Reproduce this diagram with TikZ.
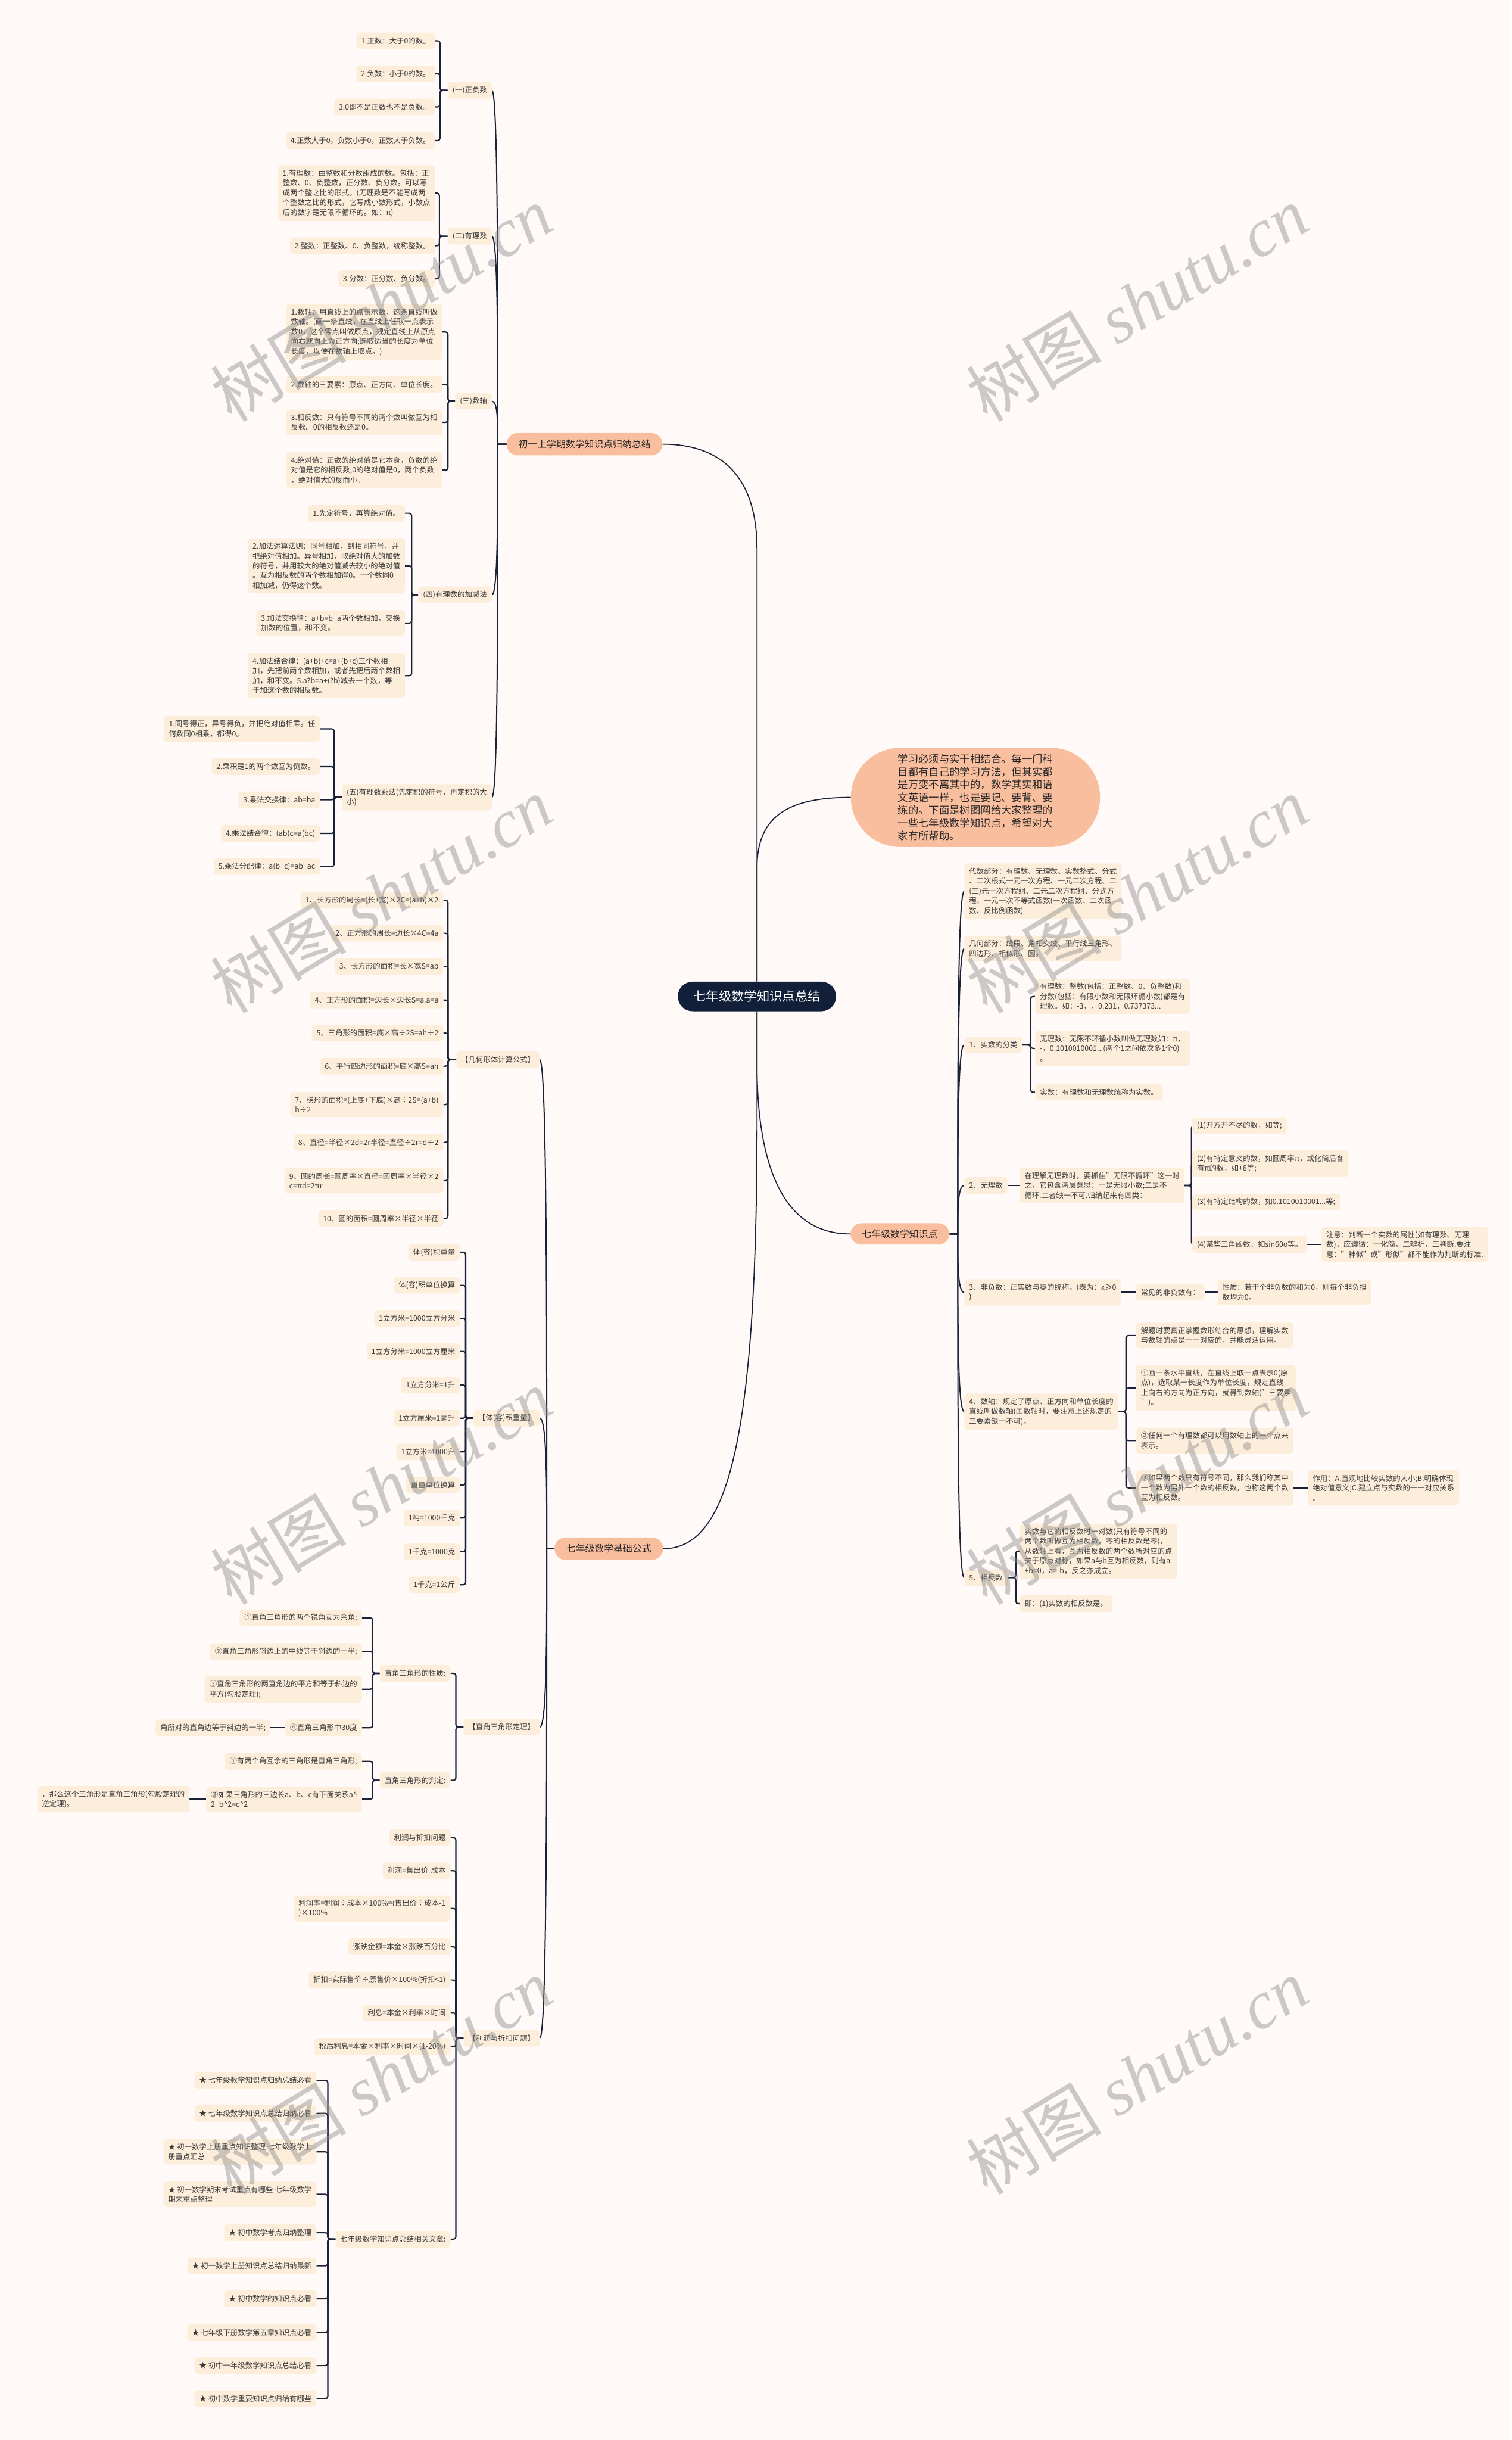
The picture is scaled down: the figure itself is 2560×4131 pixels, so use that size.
\documentclass[tikz,border=0pt]{standalone}
\usepackage{fontspec}
\setmainfont{Noto Sans CJK SC}
\newfontfamily\wmfont{Liberation Serif}
\usetikzlibrary{calc}
\pgfdeclarelayer{lines}
\pgfsetlayers{lines,main}
\definecolor{bgc}{HTML}{FFFAF8}
\definecolor{leafc}{HTML}{FDEEDC}
\definecolor{lonec}{HTML}{F9BE9E}
\definecolor{rootc}{HTML}{111F38}
\definecolor{linec}{HTML}{1A2238}
\definecolor{txtc}{HTML}{3A3A3A}
\newcommand\brL[3]{\draw[br] (#1.west) -- ++(-#3,0) |- (#2.east);}
\newcommand\brR[3]{\draw[br] (#1.east) -- ++(#3,0) |- (#2.west);}
\newcommand\cvL[3]{\draw[cv] (#1.west) -- (#3) .. controls ($(#3)!0.5!(#3 |- #2.east)$) and (#3 |- #2.east) .. (#2.east);}
\newcommand\cvR[3]{\draw[cv] (#1.east) -- (#3) .. controls ($(#3)!0.5!(#3 |- #2.west)$) and (#3 |- #2.west) .. (#2.west);}
\begin{document}
\begin{tikzpicture}[x=1pt,y=-1pt,
 leaf/.style={fill=leafc, rounded corners=5pt, inner xsep=8pt, inner ysep=7.5pt, minimum height=28pt, align=left, text=txtc, font=\fontsize{12.5}{16.6}\selectfont},
 lone/.style={fill=lonec, rounded corners=19pt, minimum height=38pt, inner xsep=0pt, text=black!85, font=\fontsize{16}{20}\selectfont},
 rootn/.style={fill=rootc, rounded corners=25pt, minimum width=268pt, minimum height=50pt, text=white, font=\fontsize{21.5}{24}\selectfont},
 bubble/.style={fill=lonec, rounded corners=84pt, minimum width=422pt, minimum height=168pt, align=left, text=black!85, font=\fontsize{17.5}{21.6}\selectfont},
 br/.style={draw=linec, line width=2.2pt, rounded corners=4pt},
 cv/.style={draw=linec, line width=2pt},
 rc/.style={draw=linec, line width=1.8pt},
 wm/.style={text=black!45, text opacity=0.45, font=\fontsize{115}{120}\selectfont, rotate=31},
]
\useasboundingbox (0,0) rectangle (2560,4131);

% ---------- root, level 1 ----------
\node[rootn] (root) at (1282,1687) {七年级数学知识点总结};
\node[lone, minimum width=264pt] (L1) at (990,752) {初一上学期数学知识点归纳总结};
\node[lone, minimum width=184pt] (L2) at (1031,2622) {七年级数学基础公式};
\node[lone, minimum width=168pt, minimum height=36pt] (L3) at (1524,2089) {七年级数学知识点};
\node[bubble] (bub) at (1652,1350) {学习必须与实干相结合。每一门科\\目都有自己的学习方法，但其实都\\是万变不离其中的，数学其实和语\\文英语一样，也是要记、要背、要\\练的。下面是树图网给大家整理的\\一些七年级数学知识点，希望对大\\家有所帮助。};
\coordinate (s1) at (843,752);
\coordinate (s2) at (926,2622);
\coordinate (s3) at (1622,2089);

% ---------- 初一上学期 ----------
\node[leaf,anchor=east] (pa) at (833,153) {(一)正负数};
\node[leaf,anchor=east] (a1) at (737,69) {1.正数：大于0的数。};
\node[leaf,anchor=east] (a2) at (737,125) {2.负数：小于0的数。};
\node[leaf,anchor=east] (a3) at (737,181) {3.0即不是正数也不是负数。};
\node[leaf,anchor=east] (a4) at (737,238) {4.正数大于0，负数小于0，正数大于负数。};
\node[leaf,anchor=east] (pb) at (833,400) {(二)有理数};
\node[leaf,anchor=east] (b1) at (737,327) {1.有理数：由整数和分数组成的数。包括：正\\整数、0、负整数，正分数、负分数。可以写\\成两个整之比的形式。(无理数是不能写成两\\个整数之比的形式，它写成小数形式，小数点\\后的数字是无限不循环的。如：π)};
\node[leaf,anchor=east] (b2) at (737,416) {2.整数：正整数、0、负整数，统称整数。};
\node[leaf,anchor=east] (b3) at (737,472) {3.分数：正分数、负分数。};
\node[leaf,anchor=east] (pc) at (833,679) {(三)数轴};
\node[leaf,anchor=east] (c1) at (749,562) {1.数轴：用直线上的点表示数，这条直线叫做\\数轴。(画一条直线，在直线上任取一点表示\\数0，这个零点叫做原点，规定直线上从原点\\向右或向上为正方向;选取适当的长度为单位\\长度，以便在数轴上取点。)};
\node[leaf,anchor=east] (c2) at (749,651) {2.数轴的三要素：原点、正方向、单位长度。};
\node[leaf,anchor=east] (c3) at (749,715) {3.相反数：只有符号不同的两个数叫做互为相\\反数。0的相反数还是0。};
\node[leaf,anchor=east] (c4) at (749,796) {4.绝对值：正数的绝对值是它本身，负数的绝\\对值是它的相反数;0的绝对值是0，两个负数\\，绝对值大的反而小。};
\node[leaf,anchor=east] (pd) at (833,1007) {(四)有理数的加减法};
\node[leaf,anchor=east] (d1) at (686,869) {1.先定符号，再算绝对值。};
\node[leaf,anchor=east] (d2) at (686,958) {2.加法运算法则：同号相加，到相同符号，并\\把绝对值相加。异号相加，取绝对值大的加数\\的符号，并用较大的绝对值减去较小的绝对值\\。互为相反数的两个数相加得0。一个数同0\\相加减，仍得这个数。};
\node[leaf,anchor=east] (d3) at (686,1055) {3.加法交换律：a+b=b+a两个数相加，交换\\加数的位置，和不变。};
\node[leaf,anchor=east] (d4) at (686,1144) {4.加法结合律：(a+b)+c=a+(b+c)三个数相\\加，先把前两个数相加，或者先把后两个数相\\加，和不变。5.a?b=a+(?b)减去一个数，等\\于加这个数的相反数。};
\node[leaf,anchor=east] (pe) at (833,1350) {(五)有理数乘法(先定积的符号，再定积的大\\小)};
\node[leaf,anchor=east] (e1) at (542,1234) {1.同号得正，异号得负，并把绝对值相乘。任\\何数同0相乘，都得0。};
\node[leaf,anchor=east] (e2) at (542,1298) {2.乘积是1的两个数互为倒数。};
\node[leaf,anchor=east] (e3) at (542,1354) {3.乘法交换律：ab=ba};
\node[leaf,anchor=east] (e4) at (542,1411) {4.乘法结合律：(ab)c=a(bc)};
\node[leaf,anchor=east] (e5) at (542,1467) {5.乘法分配律：a(b+c)=ab+ac};

% ---------- 七年级数学基础公式 ----------
\node[leaf,anchor=east] (pg) at (914,1794) {【几何形体计算公式】};
\node[leaf,anchor=east] (g1) at (751,1524) {1、长方形的周长=(长+宽)×2C=(a+b)×2};
\node[leaf,anchor=east] (g2) at (751,1580) {2、正方形的周长=边长×4C=4a};
\node[leaf,anchor=east] (g3) at (751,1636) {3、长方形的面积=长×宽S=ab};
\node[leaf,anchor=east] (g4) at (751,1693) {4、正方形的面积=边长×边长S=a.a=a};
\node[leaf,anchor=east] (g5) at (751,1749) {5、三角形的面积=底×高÷2S=ah÷2};
\node[leaf,anchor=east] (g6) at (751,1805) {6、平行四边形的面积=底×高S=ah};
\node[leaf,anchor=east] (g7) at (751,1870) {7、梯形的面积=(上底+下底)×高÷2S=(a+b)\\h÷2};
\node[leaf,anchor=east] (g8) at (751,1934) {8、直径=半径×2d=2r半径=直径÷2r=d÷2};
\node[leaf,anchor=east] (g9) at (751,1999) {9、圆的周长=圆周率×直径=圆周率×半径×2\\c=πd=2πr};
\node[leaf,anchor=east] (g10) at (751,2063) {10、圆的面积=圆周率×半径×半径};

\node[leaf,anchor=east] (pv) at (914,2401) {【体(容)积重量】};
\node[leaf,anchor=east] (v1) at (779,2120) {体(容)积重量};
\node[leaf,anchor=east] (v2) at (779,2176) {体(容)积单位换算};
\node[leaf,anchor=east] (v3) at (779,2232) {1立方米=1000立方分米};
\node[leaf,anchor=east] (v4) at (779,2288) {1立方分米=1000立方厘米};
\node[leaf,anchor=east] (v5) at (779,2345) {1立方分米=1升};
\node[leaf,anchor=east] (v6) at (779,2401) {1立方厘米=1毫升};
\node[leaf,anchor=east] (v7) at (779,2458) {1立方米=1000升};
\node[leaf,anchor=east] (v8) at (779,2514) {重量单位换算};
\node[leaf,anchor=east] (v9) at (779,2570) {1吨=1000千克};
\node[leaf,anchor=east] (v10) at (779,2627) {1千克=1000克};
\node[leaf,anchor=east] (v11) at (779,2683) {1千克=1公斤};

\node[leaf,anchor=east] (pt) at (914,2924) {【直角三角形定理】};
\node[leaf,anchor=east] (t1) at (763,2833) {直角三角形的性质:};
\node[leaf,anchor=east] (t1a) at (613,2739) {①直角三角形的两个锐角互为余角;};
\node[leaf,anchor=east] (t1b) at (613,2796) {②直角三角形斜边上的中线等于斜边的一半;};
\node[leaf,anchor=east] (t1c) at (613,2860) {③直角三角形的两直角边的平方和等于斜边的\\平方(勾股定理);};
\node[leaf,anchor=east] (t1d) at (613,2925) {④直角三角形中30度};
\node[leaf,anchor=east] (t1e) at (458,2925) {角所对的直角边等于斜边的一半;};
\node[leaf,anchor=east] (t2) at (763,3014) {直角三角形的判定:};
\node[leaf,anchor=east] (t2a) at (613,2982) {①有两个角互余的三角形是直角三角形;};
\node[leaf,anchor=east] (t2b) at (613,3046) {②如果三角形的三边长a、b、c有下面关系a\textasciicircum\\2+b\textasciicircum 2=c\textasciicircum 2};
\node[leaf,anchor=east] (t2c) at (321,3046) {，那么这个三角形是直角三角形(勾股定理的\\逆定理)。};

\node[leaf,anchor=east] (pp) at (914,3451) {【利润与折扣问题】};
\node[leaf,anchor=east] (p1) at (763,3111) {利润与折扣问题};
\node[leaf,anchor=east] (p2) at (763,3167) {利润=售出价-成本};
\node[leaf,anchor=east] (p3) at (763,3231) {利润率=利润÷成本×100\%=(售出价÷成本-1\\)×100\%};
\node[leaf,anchor=east] (p4) at (763,3296) {涨跌金额=本金×涨跌百分比};
\node[leaf,anchor=east] (p5) at (763,3352) {折扣=实际售价÷原售价×100\%(折扣<1)};
\node[leaf,anchor=east] (p6) at (763,3408) {利息=本金×利率×时间};
\node[leaf,anchor=east] (p7) at (763,3465) {税后利息=本金×利率×时间×(1-20\%)};
\node[leaf,anchor=east] (p8) at (763,3791) {七年级数学知识点总结相关文章:};
\node[leaf,anchor=east] (k1) at (536,3522) {★ 七年级数学知识点归纳总结必看};
\node[leaf,anchor=east] (k2) at (536,3578) {★ 七年级数学知识点总结归纳必看};
\node[leaf,anchor=east] (k3) at (536,3643) {★ 初一数学上册重点知识整理 七年级数学上\\册重点汇总};
\node[leaf,anchor=east] (k4) at (536,3715) {★ 初一数学期末考试重点有哪些 七年级数学\\期末重点整理};
\node[leaf,anchor=east] (k5) at (536,3780) {★ 初中数学考点归纳整理};
\node[leaf,anchor=east] (k6) at (536,3836) {★ 初一数学上册知识点总结归纳最新};
\node[leaf,anchor=east] (k7) at (536,3892) {★ 初中数学的知识点必看};
\node[leaf,anchor=east] (k8) at (536,3949) {★ 七年级下册数学第五章知识点必看};
\node[leaf,anchor=east] (k9) at (536,4005) {★ 初中一年级数学知识点总结必看};
\node[leaf,anchor=east] (k10) at (536,4061) {★ 初中数学重要知识点归纳有哪些};

% ---------- 七年级数学知识点 ----------
\node[leaf,anchor=west] (r1) at (1633,1509) {代数部分：有理数、无理数、实数整式、分式\\、二次根式一元一次方程、一元二次方程、二\\(三)元一次方程组、二元二次方程组、分式方\\程、一元一次不等式函数(一次函数、二次函\\数、反比例函数)};
\node[leaf,anchor=west] (r2) at (1633,1606) {几何部分：线段、角相交线、平行线三角形、\\四边形、相似形、圆。};
\node[leaf,anchor=west] (r3) at (1633,1769) {1、实数的分类};
\node[leaf,anchor=west] (r3a) at (1753,1687) {有理数：整数(包括：正整数、0、负整数)和\\分数(包括：有限小数和无限环循小数)都是有\\理数。如：-3，，0.231，0.737373...};
\node[leaf,anchor=west] (r3b) at (1753,1775) {无理数：无限不环循小数叫做无理数如：π，\\-，0.1010010001...(两个1之间依次多1个0)\\。};
\node[leaf,anchor=west] (r3c) at (1753,1849) {实数：有理数和无理数统称为实数。};
\node[leaf,anchor=west] (r4) at (1633,2007) {2、无理数};
\node[leaf,anchor=west] (r4a) at (1727,2007) {在理解无理数时，要抓住"无限不循环"这一时\\之，它包含两层意思：一是无限小数;二是不\\循环.二者缺一不可.归纳起来有四类：};
\node[leaf,anchor=west] (r4b) at (2019,1906) {(1)开方开不尽的数，如等;};
\node[leaf,anchor=west] (r4c) at (2019,1970) {(2)有特定意义的数，如圆周率π，或化简后含\\有π的数，如+8等;};
\node[leaf,anchor=west] (r4d) at (2019,2035) {(3)有特定结构的数，如0.1010010001...等;};
\node[leaf,anchor=west] (r4e) at (2019,2107) {(4)某些三角函数，如sin60o等。};
\node[leaf,anchor=west] (r4f) at (2238,2107) {注意：判断一个实数的属性(如有理数、无理\\数)，应遵循：一化简，二辨析，三判断.要注\\意："神似"或"形似"都不能作为判断的标准.};
\node[leaf,anchor=west] (r5) at (1633,2188) {3、非负数：正实数与零的统称。(表为：x≥0\\)};
\node[leaf,anchor=west] (r5a) at (1924,2188) {常见的非负数有：};
\node[leaf,anchor=west] (r5b) at (2062,2188) {性质：若干个非负数的和为0，则每个非负担\\数均为0。};
\node[leaf,anchor=west] (r6) at (1633,2390) {4、数轴：规定了原点、正方向和单位长度的\\直线叫做数轴(画数轴时，要注意上述规定的\\三要素缺一不可)。};
\node[leaf,anchor=west] (r6a) at (1924,2261) {解题时要真正掌握数形结合的思想，理解实数\\与数轴的点是一一对应的，并能灵活运用。};
\node[leaf,anchor=west] (r6b) at (1924,2350) {①画一条水平直线，在直线上取一点表示0(原\\点)，选取某一长度作为单位长度，规定直线\\上向右的方向为正方向，就得到数轴("三要素\\")。};
\node[leaf,anchor=west] (r6c) at (1924,2439) {②任何一个有理数都可以用数轴上的一个点来\\表示。};
\node[leaf,anchor=west] (r6d) at (1924,2519) {③如果两个数只有符号不同，那么我们称其中\\一个数为另外一个数的相反数，也称这两个数\\互为相反数。};
\node[leaf,anchor=west] (r6e) at (2215,2519) {作用：A.直观地比较实数的大小;B.明确体现\\绝对值意义;C.建立点与实数的一一对应关系\\。};
\node[leaf,anchor=west] (r7) at (1633,2671) {5、相反数};
\node[leaf,anchor=west] (r7a) at (1727,2626) {实数与它的相反数时一对数(只有符号不同的\\两个数叫做互为相反数，零的相反数是零)，\\从数轴上看，互为相反数的两个数所对应的点\\关于原点对称，如果a与b互为相反数，则有a\\+b=0，a=-b，反之亦成立。};
\node[leaf,anchor=west] (r7b) at (1727,2715) {即：(1)实数的相反数是。};

% ---------- connectors ----------
\begin{pgfonlayer}{lines}
\fill[bgc] (0,0) rectangle (2560,4131);
\draw[rc] (root.north) -- (1282,930) .. controls (1282,800) and (1215,752) .. (L1.east);
\draw[rc] (root.north) -- (1282,1470) .. controls (1282,1385) and (1330,1350) .. (bub.west);
\draw[rc] (root.south) -- (1282,1800) .. controls (1282,2000) and (1340,2089) .. (L3.west);
\draw[rc] (root.south) -- (1282,1900) .. controls (1282,2450) and (1230,2622) .. (L2.east);

\foreach \c in {pa,pb,pc,pd,pe} {\cvL{L1}{\c}{s1}}
\foreach \c in {pg,pv,pt,pp} {\cvL{L2}{\c}{s2}}
\foreach \c in {r1,r2,r3,r4,r5,r6,r7} {\cvR{L3}{\c}{s3}}

\foreach \c in {a1,a2,a3,a4} {\brL{pa}{\c}{13}}
\foreach \c in {b1,b2,b3} {\brL{pb}{\c}{14}}
\foreach \c in {c1,c2,c3,c4} {\brL{pc}{\c}{12}}
\foreach \c in {d1,d2,d3,d4} {\brL{pd}{\c}{11}}
\foreach \c in {e1,e2,e3,e4,e5} {\brL{pe}{\c}{13}}
\foreach \c in {g1,g2,g3,g4,g5,g6,g7,g8,g9,g10} {\brL{pg}{\c}{14}}
\foreach \c in {v1,v2,v3,v4,v5,v6,v7,v8,v9,v10,v11} {\brL{pv}{\c}{13}}
\foreach \c in {t1,t2} {\brL{pt}{\c}{13}}
\foreach \c in {t1a,t1b,t1c,t1d} {\brL{t1}{\c}{12}}
\foreach \c in {t2a,t2b} {\brL{t2}{\c}{12}}
\draw[br] (t1d.west) -- (t1e.east);
\draw[br] (t2b.west) -- (t2c.east);
\foreach \c in {p1,p2,p3,p4,p5,p6,p7,p8} {\brL{pp}{\c}{13}}
\foreach \c in {k1,k2,k3,k4,k5,k6,k7,k8,k9,k10} {\brL{p8}{\c}{13}}

\foreach \c in {r3a,r3b,r3c} {\brR{r3}{\c}{14}}
\draw[br] (r4.east) -- (r4a.west);
\foreach \c in {r4b,r4c,r4d,r4e} {\brR{r4a}{\c}{12}}
\draw[br] (r4e.east) -- (r4f.west);
\draw[br] (r5.east) -- (r5a.west);
\draw[br] (r5a.east) -- (r5b.west);
\foreach \c in {r6a,r6b,r6c,r6d} {\brR{r6}{\c}{13}}
\draw[br] (r6d.east) -- (r6e.west);
\foreach \c in {r7a,r7b} {\brR{r7}{\c}{14}}
\end{pgfonlayer}

% ---------- watermarks ----------
\foreach \wx in {646,1925} {
  \foreach \wy in {514,1515,2517,3515} {
    \node[wm] (w-\wx-\wy) at (\wx,\wy) {树图 {\wmfont\itshape shutu.cn}};
  }
}
\end{tikzpicture}
\end{document}
